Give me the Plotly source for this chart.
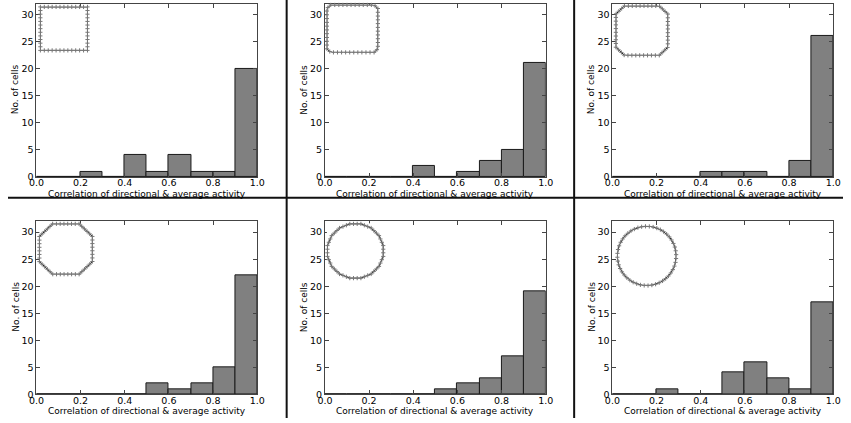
import numpy as np
import plotly.graph_objects as go

# histogram bins: correlation of directional & average activity
bin_centers = [0.05, 0.15, 0.25, 0.35, 0.45, 0.55, 0.65, 0.75, 0.85, 0.95]
counts_a = [0, 0, 1, 0, 4, 1, 4, 1, 1, 20]
counts_b = [0, 0, 0, 0, 2, 0, 1, 3, 5, 21]
counts_c = [0, 0, 0, 0, 1, 1, 1, 0, 3, 26]
counts_d = [0, 0, 0, 0, 0, 2, 1, 2, 5, 22]
counts_e = [0, 0, 0, 0, 0, 1, 2, 3, 7, 19]
counts_f = [0, 0, 1, 0, 0, 4, 6, 3, 1, 17]
x_ticks = [0.0, 0.2, 0.4, 0.6, 0.8, 1.0]
y_ticks = [0, 5, 10, 15, 20, 25, 30]
x_label = "Correlation of directional & average activity"
y_label = "No. of cells"

W, H = 851, 423

# panel boxes in pixels (left, top), all 225 x 175
panels = [(29, 4), (323, 4), (616, 4), (29, 224), (323, 224), (616, 224)]
PW, PH = 225, 175
# inset environment shape: (kind, parameter, centre offset x, y, width, height)
insets = [
    ("cut", 0.0, 28, 25, 48, 44),
    ("cut", 0.15, 28, 25, 52, 48),
    ("cut", 0.33, 30, 27, 53, 50),
    ("cut", 0.5, 30, 28, 54, 51),
    ("ngon", 16, 31, 30, 58, 56),
    ("ngon", 72, 35, 35, 60, 60),
]
all_counts = [counts_a, counts_b, counts_c, counts_d, counts_e, counts_f]


def outline(kind, p):
    if kind == "cut":
        c = p
        verts = [(-1 + c, 1), (1 - c, 1), (1, 1 - c), (1, -1 + c),
                 (1 - c, -1), (-1 + c, -1), (-1, -1 + c), (-1, 1 - c)]
    else:
        ang = np.linspace(0, 2 * np.pi, int(p), endpoint=False) + np.pi / p
        verts = [(np.cos(a), np.sin(a)) for a in ang]
    verts = np.array(verts + [verts[0]], dtype=float)
    seg = np.hypot(*np.diff(verts, axis=0).T)
    cum = np.concatenate([[0], np.cumsum(seg)])
    s = np.linspace(0, cum[-1], 48, endpoint=False)
    xs = np.interp(s, cum, verts[:, 0])
    ys = np.interp(s, cum, verts[:, 1])
    return verts, xs, ys


fig = go.Figure()
font = dict(family="DejaVu Sans", size=9, color="black")
tick_font = dict(family="DejaVu Sans", size=9.5, color="black")

for i, (counts, (px, py), ins) in enumerate(zip(all_counts, panels, insets)):
    n = i + 1
    xa = "x" if n == 1 else f"x{n}"
    ya = "y" if n == 1 else f"y{n}"
    fig.add_trace(go.Bar(
        x=bin_centers, y=counts, width=0.1, xaxis=xa, yaxis=ya,
        marker=dict(color="#808080", line=dict(color="#1a1a1a", width=1)),
        showlegend=False,
    ))
    dom_x = [px / W, (px + PW) / W]
    dom_y = [1 - (py + PH) / H, 1 - py / H]
    axis_common = dict(showline=True, mirror="ticks", linecolor="#444", linewidth=1,
                       ticks="inside", ticklen=4, tickcolor="#444", showgrid=False,
                       zeroline=False, tickfont=tick_font)
    fig.layout[f"xaxis{n}" if n > 1 else "xaxis"] = dict(
        domain=dom_x, range=[0, 1], anchor=ya, tickvals=x_ticks,
        ticktext=[f"{v:.1f}" for v in x_ticks], ticklabelstandoff=-3,
        **axis_common)
    fig.layout[f"yaxis{n}" if n > 1 else "yaxis"] = dict(
        domain=dom_y, range=[0, 32], anchor=xa, tickvals=y_ticks,
        **axis_common)

    # axis labels
    fig.add_annotation(text=x_label, xref="paper", yref="paper",
                       x=(px + PW / 2) / W, y=1 - (py + PH + 17) / H,
                       xanchor="center", yanchor="middle", showarrow=False, font=font)
    fig.add_annotation(text=y_label, xref="paper", yref="paper", textangle=-90,
                       x=(px - 21) / W, y=1 - (py + PH / 2 - 1) / H,
                       xanchor="center", yanchor="middle", showarrow=False, font=font)

    # inset shape
    kind, p, cx, cy, iw, ih = ins
    verts, xs, ys = outline(kind, p)
    m = n + 6
    ixa, iya = f"x{m}", f"y{m}"
    fig.add_trace(go.Scatter(
        x=verts[:, 0], y=verts[:, 1], mode="lines", xaxis=ixa, yaxis=iya,
        line=dict(color="#222", width=1), showlegend=False, cliponaxis=False,
    ))
    fig.add_trace(go.Scatter(
        x=xs, y=ys, mode="markers", xaxis=ixa, yaxis=iya, cliponaxis=False,
        marker=dict(symbol="cross-thin", size=3, line=dict(color="#777", width=1)),
        showlegend=False,
    ))
    left = px + cx - iw / 2
    top = py + cy - ih / 2
    fig.layout[f"xaxis{m}"] = dict(domain=[left / W, (left + iw) / W], range=[-1, 1],
                                   anchor=iya, visible=False)
    fig.layout[f"yaxis{m}"] = dict(domain=[1 - (top + ih) / H, 1 - top / H], range=[-1, 1],
                                   anchor=ixa, visible=False)

# divider lines between panels
for xp in [284, 577]:
    fig.add_shape(type="line", xref="paper", yref="paper", x0=xp / W, x1=xp / W,
                  y0=0, y1=1, line=dict(color="#111", width=2))
fig.add_shape(type="line", xref="paper", yref="paper", x0=0, x1=1,
              y0=1 - 200 / H, y1=1 - 200 / H, line=dict(color="#111", width=2))

fig.update_layout(
    width=W, height=H, margin=dict(l=0, r=0, t=0, b=0),
    paper_bgcolor="white", plot_bgcolor="white", bargap=0,
    font=font,
)

pin_page = (
    "var d=document.querySelector('.plotly-graph-div');"
    "d.style.position='fixed';d.style.top='0';d.style.left='0';"
    "document.body.style.margin='0';document.body.style.overflow='hidden';"
    "document.documentElement.style.overflow='hidden';"
)
fig.write_html("out.html", post_script=pin_page, config={"displayModeBar": False})
